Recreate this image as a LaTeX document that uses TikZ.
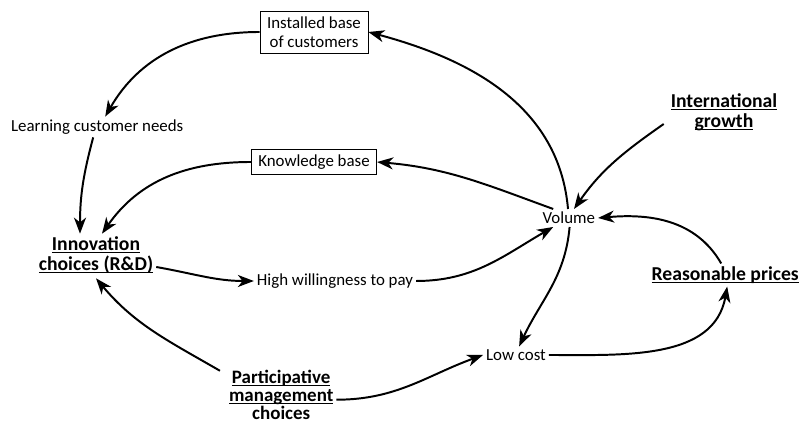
\documentclass[tikz,border=0pt]{standalone}
\usepackage{fontspec}
\setmainfont{Carlito}
\usetikzlibrary{arrows.meta,calc}
\lineskiplimit=-8pt
\newcommand{\keyul}[1]{\setbox0=\hbox{#1}\leavevmode\rlap{\rule[-2pt]{\wd0}{0.7pt}}\box0}
\tikzset{
  lbl/.style={align=center,font=\fontsize{12}{13.5}\selectfont,inner sep=2pt},
  boxlbl/.style={lbl,draw,line width=0.6pt,inner xsep=5pt,inner ysep=4pt},
  keylbl/.style={lbl,font=\fontsize{14}{14}\selectfont\bfseries},
  link/.style={line width=1.4pt,-{Stealth[length=4mm,width=3mm,inset=1.2mm]}},
}

\begin{document}
\begin{tikzpicture}
\useasboundingbox (0,0) rectangle (20,10.575);

\node[boxlbl] (inst) at (7.85,9.775) {Installed base\\of customers};
\node[lbl] (learn) at (2.43,7.4) {Learning customer needs};
\node[boxlbl] (know) at (7.85,6.525) {Knowledge base};
\node[lbl] (vol) at (14.22,5.125) {Volume};
\node[keylbl] (intl) at (18.1,7.775) {\keyul{International}\\\keyul{growth}};
\node[keylbl] (innov) at (2.4,4.2) {\keyul{Innovation}\\\keyul{choices (R\&D)}};
\node[lbl] (wtp) at (8.375,3.55) {High willingness to pay};
\node[keylbl] (price) at (18.13,3.7) {\keyul{Reasonable prices}};
\node[lbl] (cost) at (12.9,1.7) {Low cost};
\node[keylbl,font=\fontsize{13.5}{13}\selectfont\bfseries,anchor=south] (part) at (7.03,0.0) {\keyul{Participative}\\\keyul{management}\\choices};

% upper loop
\draw[link] (vol.95) to[out=95,in=-15] (inst.east);
\draw[link] (inst.west) to[out=180,in=60] ($(learn.north)+(0.2,0)$);
\draw[link] ($(learn.south)+(-0.1,0)$) to[out=-105,in=90] ($(innov.north)+(-0.4,0)$);
\draw[link] (know.west) to[out=180,in=55] ($(innov.north)+(0.15,0)$);
\draw[link] (vol.150) to[out=160,in=-5] (know.east);

% right side
\draw[link] ($(intl.west)+(-0.1,-0.3)$) to[out=215,in=55] (vol.60);
\draw[link] ($(price.north)+(-0.1,0)$) to[out=120,in=5] (vol.east);
\draw[link] (vol.-85) to[out=-95,in=65] (cost.70);
\draw[link] (cost.east) to[out=0,in=-100] ($(price.south)+(0.05,0)$);

% lower part
\draw[link] ($(innov.east)+(0,-0.3)$) to[out=-10,in=180] (wtp.west);
\draw[link] (wtp.east) to[out=0,in=210] (vol.-150);
\draw[link,{Stealth[length=4mm,width=3mm,inset=1.2mm]}-] ($(innov.south)+(0,-0.05)$) to[out=-50,in=150] ($(part.north west)+(-0.15,-0.1)$);
\draw[link] (part.-5) to[out=0,in=200] (cost.west);

\end{tikzpicture}
\end{document}
